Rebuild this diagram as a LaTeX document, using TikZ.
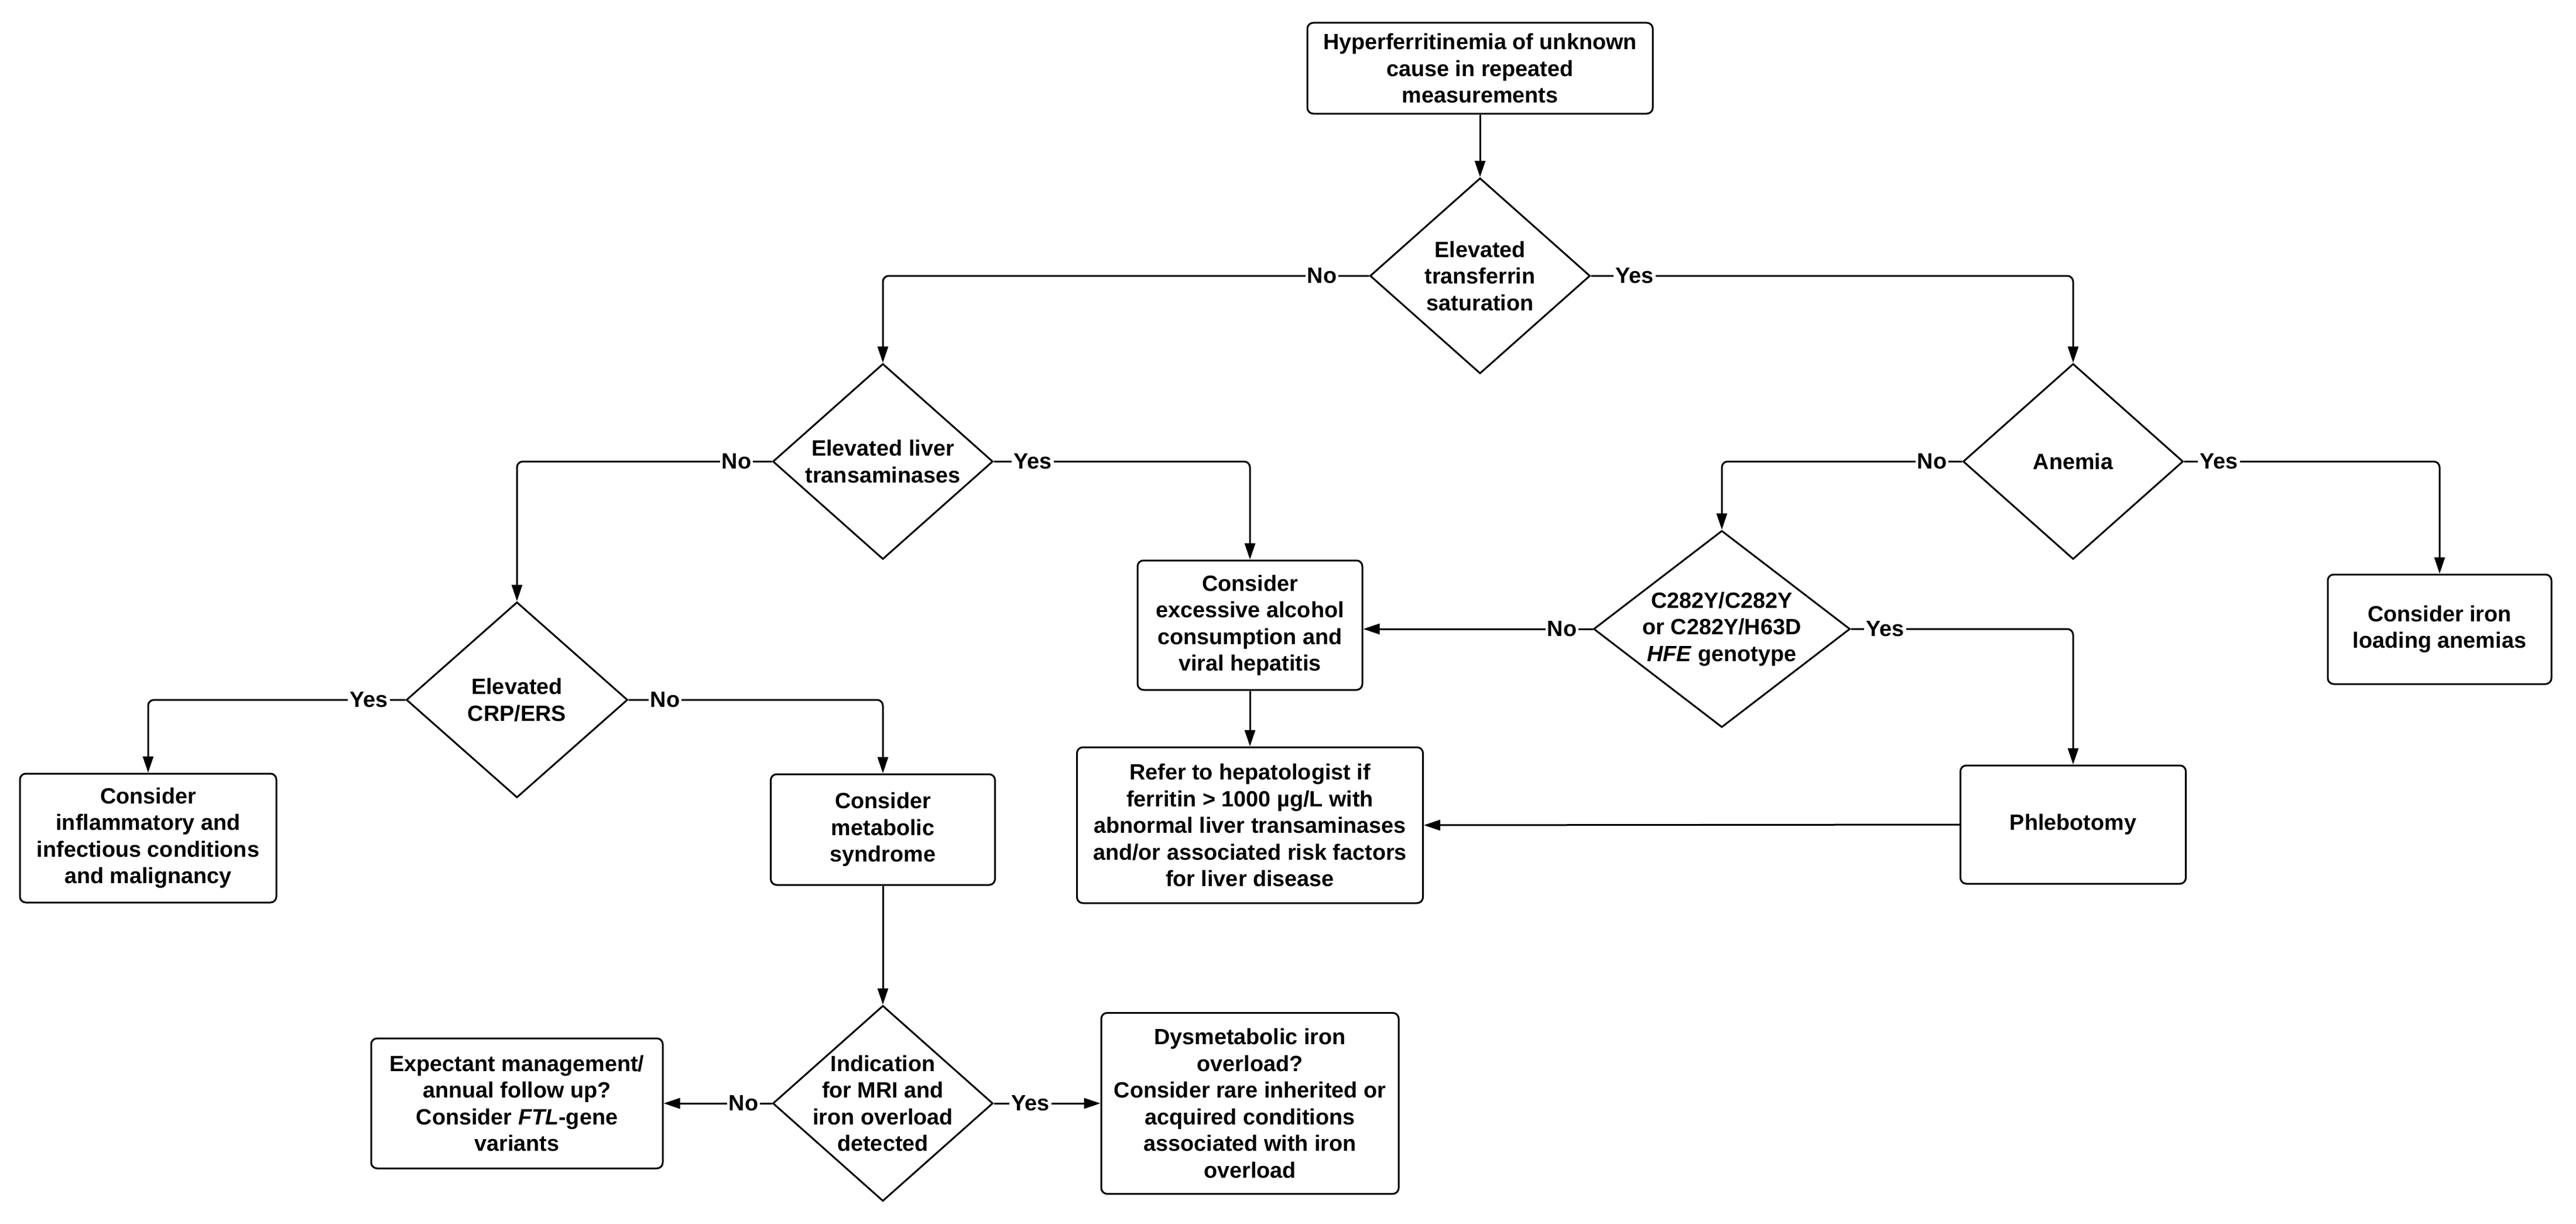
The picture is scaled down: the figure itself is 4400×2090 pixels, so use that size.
\documentclass[tikz,border=0pt]{standalone}
\usepackage{fontspec}
\setmainfont{Liberation Sans}
\usetikzlibrary{arrows.meta,shapes.geometric,calc}
\begin{document}
\begin{tikzpicture}[x=1pt,y=-1pt,
  txt/.style={font=\bfseries\fontsize{37.8}{45.5}\selectfont, align=center, inner sep=0pt},
  box/.style={txt, draw, line width=3pt, rounded corners=10pt, fill=white},
  dia/.style={diamond, draw, line width=3pt, inner sep=0pt, fill=white},
  arr/.style={line width=3pt, rounded corners=10pt, -{Triangle[length=28pt,width=18pt]}},
  lbl/.style={txt, fill=white, inner sep=3pt}]
\fill[white] (0,0) rectangle (4400,2090);
\useasboundingbox (0,0) rectangle (4400,2090);

% boxes
\node[box, minimum width=590pt, minimum height=155pt] (top) at (2528,116.5) {Hyperferritinemia of unknown\\cause in repeated\\measurements};
\node[box, minimum width=384pt, minimum height=221pt] (alc) at (2135,1067.5) {Consider\\excessive alcohol\\consumption and\\viral hepatitis};
\node[box, minimum width=382pt, minimum height=187pt] (iron) at (4167,1074.5) {Consider iron\\loading anemias};
\node[box, minimum width=438pt, minimum height=220pt] (infl) at (253,1431) {Consider\\inflammatory and\\infectious conditions\\and malignancy};
\node[box, minimum width=383pt, minimum height=189pt] (meta) at (1508,1416.5) {Consider\\metabolic\\syndrome};
\node[box, minimum width=591pt, minimum height=266pt] (refer) at (2135,1409) {Refer to hepatologist if\\ferritin > 1000 µg/L with\\abnormal liver transaminases\\and/or associated risk factors\\for liver disease};
\node[box, minimum width=385pt, minimum height=202pt] (phleb) at (3541,1408) {Phlebotomy};
\node[box, minimum width=498pt, minimum height=222pt] (expect) at (883,1884) {Expectant management/\\annual follow up?\\Consider \textit{FTL}-gene\\variants};
\node[box, minimum width=508pt, minimum height=309pt] (dysm) at (2135,1884) {Dysmetabolic iron\\overload?\\Consider rare inherited or\\acquired conditions\\associated with iron\\overload};

% diamonds
\node[dia, minimum width=376pt, minimum height=334pt] (d1) at (2528,471) {};
\node[dia, minimum width=376pt, minimum height=334pt] (d2) at (1508,788) {};
\node[dia, minimum width=376pt, minimum height=334pt] (d3) at (3541,788) {};
\node[dia, minimum width=378pt, minimum height=334pt] (d4) at (883,1195) {};
\node[dia, minimum width=438pt, minimum height=336pt] (d6) at (2941,1074) {};
\node[dia, minimum width=376pt, minimum height=334pt] (d5) at (1508,1884) {};

\node[txt] (d1t) at (d1.center) {Elevated\\transferrin\\saturation};
\node[txt] (d2t) at (d2.center) {Elevated liver\\transaminases};
\node[txt] (d3t) at (d3.center) {Anemia};
\node[txt] (d4t) at (d4.center) {Elevated\\CRP/ERS};
\node[txt] (d6t) at (d6.center) {C282Y/C282Y\\or C282Y/H63D\\\textit{HFE} genotype};
\node[txt] (d5t) at (d5.center) {Indication\\for MRI and\\iron overload\\detected};

% connectors
\draw[arr] (top.south) -- (d1.north);
\draw[arr] (d1.west) -| (d2.north);
\draw[arr] (d1.east) -| (d3.north);
\draw[arr] (d2.west) -| (d4.north);
\draw[arr] (d2.east) -| (alc.north);
\draw[arr] (d3.west) -| (d6.north);
\draw[arr] (d3.east) -| (iron.north);
\draw[arr] (d4.west) -| (infl.north);
\draw[arr] (d4.east) -| (meta.north);
\draw[arr] (d6.west) -- (d6.west -| alc.east);
\draw[arr] (d6.east) -| (phleb.north);
\draw[arr] (alc.south) -- (refer.north);
\draw[arr] (phleb.west) -- (refer.east);
\draw[arr] (meta.south) -- (d5.north);
\draw[arr] (d5.west) -- (expect.east);
\draw[arr] (d5.east) -- (dysm.west);

% labels
\node[lbl] (l1) at (2258,471) {No};
\node[lbl] (l2) at (2792,471) {Yes};
\node[lbl] (l3) at (1258,788) {No};
\node[lbl] (l4) at (1764,788) {Yes};
\node[lbl] (l5) at (3300,788) {No};
\node[lbl] (l6) at (3790,788) {Yes};
\node[lbl] (l7) at (630,1195) {Yes};
\node[lbl] (l8) at (1136,1195) {No};
\node[lbl] (l9) at (2668,1074) {No};
\node[lbl] (l10) at (3220,1074) {Yes};
\node[lbl] (l11) at (1270,1884) {No};
\node[lbl] (l12) at (1760,1884) {Yes};
\end{tikzpicture}
\end{document}
